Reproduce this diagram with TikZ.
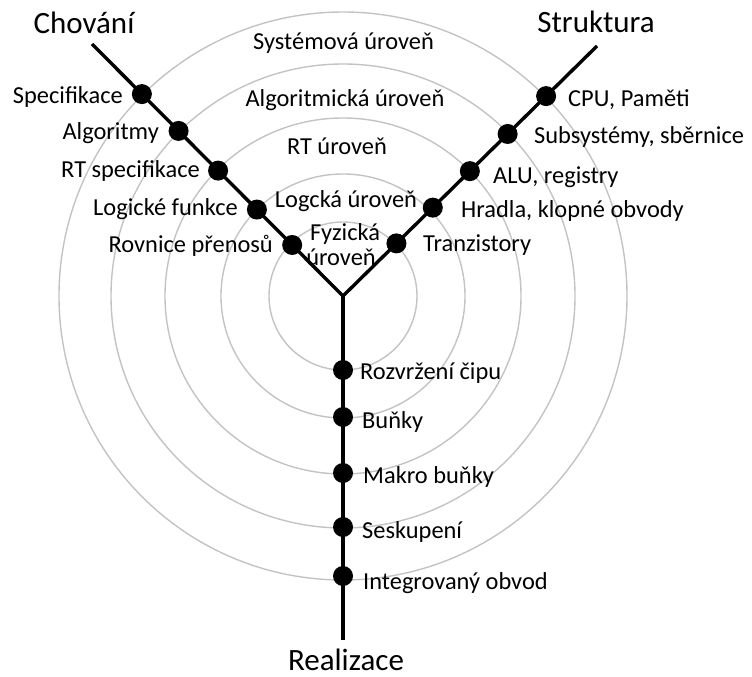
\documentclass[tikz,border=0pt]{standalone}
\usepackage{fontspec}
\setmainfont{Carlito}
\usetikzlibrary{calc}
\begin{document}
\begin{tikzpicture}[x=1pt,y=-1pt,
 ring/.style={draw={rgb,255:red,195;green,195;blue,195}, line width=1.4pt},
 axis/.style={line width=3.4pt, draw=black},
 dot/.style={circle, fill=black, inner sep=0pt, minimum size=20pt},
 lbl/.style={font=\fontsize{24.4}{28}\selectfont, inner sep=0pt},
 head/.style={font=\fontsize{31}{36}\selectfont, inner sep=0pt}]
\useasboundingbox (0,0) rectangle (752,677);
\coordinate (J) at (343,296);
\foreach \r in {74,122,178,232,284} \draw[ring] (J) circle[radius=\r pt];
\coordinate (L) at (92,44);
\coordinate (R) at (597,46);
\coordinate (B) at (343,640);
\draw[axis] (L) -- (J) -- (R);
\draw[axis] (J) -- (B);
% dots
\node[dot] (l1) at ($(J)!285pt!(L)$) {};
\node[dot] (l2) at ($(J)!233pt!(L)$) {};
\node[dot] (l3) at ($(J)!177pt!(L)$) {};
\node[dot] (l4) at ($(J)!122pt!(L)$) {};
\node[dot] (l5) at ($(J)!72pt!(L)$) {};
\node[dot] (r1) at ($(J)!285pt!(R)$) {};
\node[dot] (r2) at ($(J)!231pt!(R)$) {};
\node[dot] (r3) at ($(J)!178pt!(R)$) {};
\node[dot] (r4) at ($(J)!126pt!(R)$) {};
\node[dot] (r5) at ($(J)!75pt!(R)$) {};
\node[dot] (b1) at ($(J)+(0,74)$) {};
\node[dot] (b2) at ($(J)+(0,121)$) {};
\node[dot] (b3) at ($(J)+(0,177)$) {};
\node[dot] (b4) at ($(J)+(0,231)$) {};
\node[dot] (b5) at ($(J)+(0,280)$) {};
% headings
\node[head, anchor=base] (hc) at (84,34) {Chování};
\node[head, anchor=base] (hs) at (596,33) {Struktura};
\node[head, anchor=base] (hr) at (346,670) {Realizace};
% left labels
\node[lbl, anchor=base east] (tl1) at (123,103) {Specifikace};
\node[lbl, anchor=base east] (tl2) at (159,139) {Algoritmy};
\node[lbl, anchor=base east] (tl3) at (200,177) {RT specifikace};
\node[lbl, anchor=base east] (tl4) at (238,215) {Logické funkce};
\node[lbl, anchor=base east] (tl5) at (273,252) {Rovnice přenosů};
% right labels
\node[lbl, anchor=base west] (tr1) at (568,106) {CPU, Paměti};
\node[lbl, anchor=base west] (tr2) at (534,143) {Subsystémy, sběrnice};
\node[lbl, anchor=base west] (tr3) at (493,183) {ALU, registry};
\node[lbl, anchor=base west] (tr4) at (461,217) {Hradla, klopné obvody};
\node[lbl, anchor=base west] (tr5) at (423,251) {Tranzistory};
% bottom labels
\node[lbl, anchor=base west] (tb1) at (360,379) {Rozvržení čipu};
\node[lbl, anchor=base west] (tb2) at (362,428) {Buňky};
\node[lbl, anchor=base west] (tb3) at (363,483) {Makro buňky};
\node[lbl, anchor=base west] (tb4) at (362,538) {Seskupení};
\node[lbl, anchor=base west] (tb5) at (363,589) {Integrovaný obvod};
% level labels
\node[lbl, anchor=base] (v1) at (343.5,50) {Systémová úroveň};
\node[lbl, anchor=base] (v2) at (345,106) {Algoritmická úroveň};
\node[lbl, anchor=base] (v3) at (337,154) {RT úroveň};
\node[lbl, anchor=base] (v4) at (346,207) {Logcká úroveň};
\node[lbl, anchor=base] (v5a) at (345,240) {Fyzická};
\node[lbl, anchor=base] (v5b) at (341,265) {úroveň};
\end{tikzpicture}
\end{document}
